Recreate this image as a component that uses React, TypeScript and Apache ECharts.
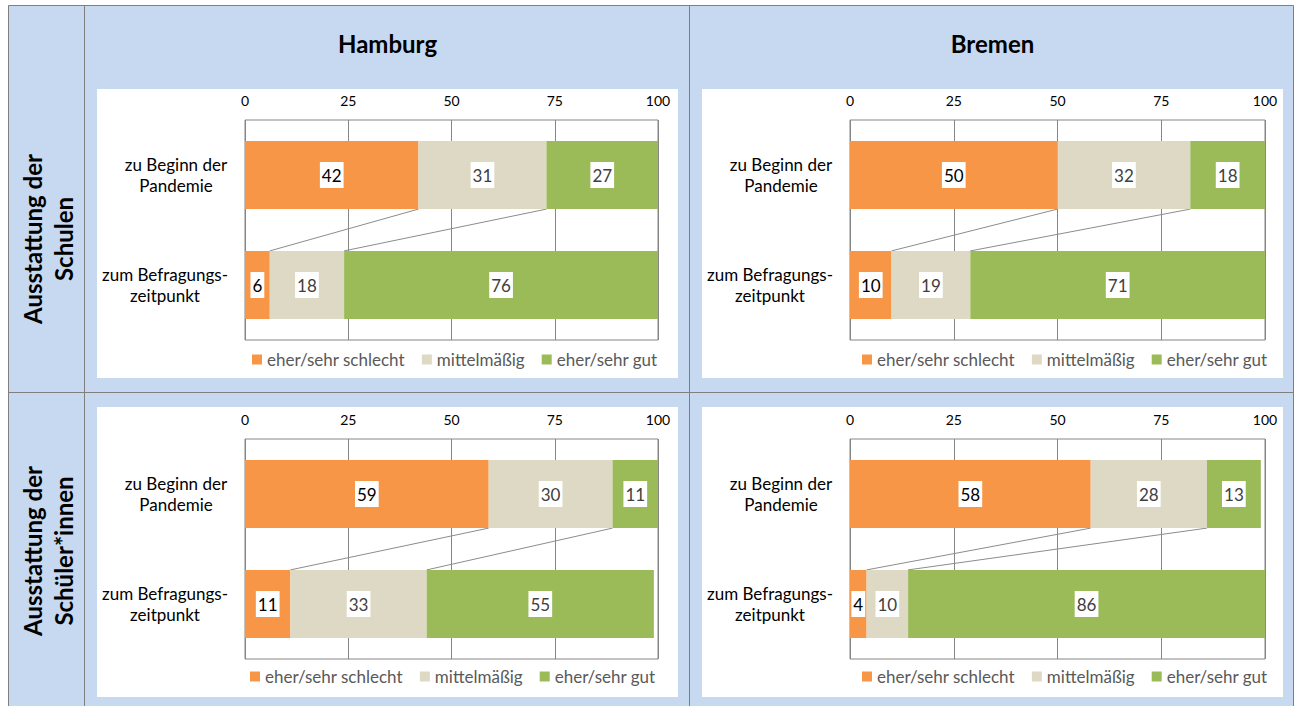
import React, { useEffect, useRef } from 'react';
import * as echarts from 'echarts';

// ---------- data ----------
const categories = ['zu Beginn der\nPandemie', 'zum Befragungs-\nzeitpunkt'];
const seriesNames = ['eher/sehr schlecht', 'mittelmäßig', 'eher/sehr gut'];
const axisTicks = [0, 25, 50, 75, 100];
const cityTitles = ['Hamburg', 'Bremen'];
const rowTitles = ['Ausstattung der\nSchulen', 'Ausstattung der\nSchüler*innen'];

// Ausstattung der Schulen
const hamburgSchulenSchlecht = [42, 6];
const hamburgSchulenMittel = [31, 18];
const hamburgSchulenGut = [27, 76];
const bremenSchulenSchlecht = [50, 10];
const bremenSchulenMittel = [32, 19];
const bremenSchulenGut = [18, 71];
// Ausstattung der Schüler*innen
const hamburgSchuelerSchlecht = [59, 11];
const hamburgSchuelerMittel = [30, 33];
const hamburgSchuelerGut = [11, 55];
const bremenSchuelerSchlecht = [58, 4];
const bremenSchuelerMittel = [28, 10];
const bremenSchuelerGut = [13, 86];

// ---------- style ----------
const FONT = 'Lato';
const colors = ['#F79646', '#DDD9C4', '#9BBB59'];
const labelColors = ['#000000', '#404040', '#404040'];
const BAR_FRAC = 0.62;

const panels = [
  { grid: { left: 245, top: 120, width: 413, height: 220 }, legend: { left: 252, top: 351 }, values: [hamburgSchulenSchlecht, hamburgSchulenMittel, hamburgSchulenGut] },
  { grid: { left: 850, top: 120, width: 415, height: 220 }, legend: { left: 862, top: 351 }, values: [bremenSchulenSchlecht, bremenSchulenMittel, bremenSchulenGut] },
  { grid: { left: 245, top: 439, width: 413, height: 220 }, legend: { left: 250, top: 668 }, values: [hamburgSchuelerSchlecht, hamburgSchuelerMittel, hamburgSchuelerGut] },
  { grid: { left: 850, top: 439, width: 415, height: 220 }, legend: { left: 862, top: 668 }, values: [bremenSchuelerSchlecht, bremenSchuelerMittel, bremenSchuelerGut] },
];

function buildOption() {
  const grids: any[] = [];
  const xAxes: any[] = [];
  const yAxes: any[] = [];
  const series: any[] = [];
  const legends: any[] = [];

  panels.forEach((p, i) => {
    grids.push({ ...p.grid, show: true, borderColor: '#868686', borderWidth: 1, backgroundColor: 'transparent' });
    xAxes.push({
      gridIndex: i,
      type: 'value',
      position: 'top',
      min: axisTicks[0],
      max: axisTicks[axisTicks.length - 1],
      interval: axisTicks[1] - axisTicks[0],
      axisLine: { show: false },
      axisTick: { show: false },
      axisLabel: { margin: 13, color: '#000', fontSize: 14, fontFamily: FONT },
      splitLine: { show: true, lineStyle: { color: '#868686', width: 1 } },
    });
    yAxes.push({
      gridIndex: i,
      type: 'category',
      data: categories,
      inverse: true,
      axisLine: { show: false },
      axisTick: { show: false },
      axisLabel: {
        margin: 16,
        align: 'right',
        color: '#000',
        fontSize: 17,
        fontFamily: FONT,
        lineHeight: 21,
        formatter: (val: string, idx: number) =>
          val.split('\n').map((l) => `{c${idx}|${l}}`).join('\n'),
        rich: {
          c0: { width: 106, align: 'center', fontSize: 17, fontFamily: FONT, color: '#000', lineHeight: 21 },
          c1: { width: 128, align: 'center', fontSize: 17, fontFamily: FONT, color: '#000', lineHeight: 21 },
        },
      },
    });
    p.values.forEach((vals, s) => {
      series.push({
        type: 'bar',
        name: seriesNames[s],
        xAxisIndex: i,
        yAxisIndex: i,
        stack: 'stack' + i,
        barWidth: BAR_FRAC * 100 + '%',
        data: vals,
        itemStyle: { color: colors[s] },
        label: {
          show: true,
          position: 'inside',
          color: labelColors[s],
          fontSize: 17,
          fontFamily: FONT,
          backgroundColor: '#ffffff',
          padding: [5, 2, 4, 2],
        },
        emphasis: { disabled: true },
      });
    });
    // series lines between the two stacked bars
    const lineData: number[][] = [];
    for (let b = 0; b < p.values.length - 1; b++) {
      let c0 = 0;
      let c1 = 0;
      for (let s = 0; s <= b; s++) {
        c0 += p.values[s][0];
        c1 += p.values[s][1];
      }
      lineData.push([c0, c1, 0]);
    }
    series.push({
      type: 'custom',
      xAxisIndex: i,
      yAxisIndex: i,
      silent: true,
      encode: { x: [0, 1], y: 2 },
      data: lineData,
      renderItem: (params: any, api: any) => {
        const p0 = api.coord([api.value(0), 0]);
        const p1 = api.coord([api.value(1), 1]);
        const band = api.size([0, 1])[1];
        const half = (band * BAR_FRAC) / 2;
        return {
          type: 'line',
          shape: { x1: p0[0], y1: p0[1] + half, x2: p1[0], y2: p1[1] - half },
          style: { stroke: '#8C8C8C', lineWidth: 1 },
        };
      },
    });
    legends.push({
      left: p.legend.left,
      top: p.legend.top,
      orient: 'horizontal',
      padding: 0,
      icon: 'rect',
      itemWidth: 10,
      itemHeight: 10,
      itemGap: 17,
      selectedMode: false,
      data: seriesNames,
      textStyle: { color: '#595959', fontSize: 17, fontFamily: FONT },
    });
  });

  const lineStyle = { stroke: '#7F7F7F', lineWidth: 1 };
  const titleFont = `bold 24px ${FONT}`;
  const graphic: any[] = [
    { type: 'rect', z: -20, shape: { x: 8.5, y: 5.5, width: 1285, height: 720 }, style: { fill: '#C6D9F0', stroke: '#7F7F7F', lineWidth: 1 } },
    { type: 'rect', z: -19, shape: { x: 97, y: 89, width: 581, height: 289 }, style: { fill: '#FFFFFF' } },
    { type: 'rect', z: -19, shape: { x: 702, y: 89, width: 581, height: 289 }, style: { fill: '#FFFFFF' } },
    { type: 'rect', z: -19, shape: { x: 97, y: 407, width: 581, height: 290 }, style: { fill: '#FFFFFF' } },
    { type: 'rect', z: -19, shape: { x: 702, y: 407, width: 581, height: 290 }, style: { fill: '#FFFFFF' } },
    { type: 'line', z: -18, shape: { x1: 84.5, y1: 5, x2: 84.5, y2: 706 }, style: lineStyle },
    { type: 'line', z: -18, shape: { x1: 689.5, y1: 5, x2: 689.5, y2: 706 }, style: lineStyle },
    { type: 'line', z: -18, shape: { x1: 8, y1: 392.5, x2: 1294, y2: 392.5 }, style: lineStyle },
    {
      type: 'text', x: 387.5, y: 43,
      style: { text: cityTitles[0], fill: '#000', font: titleFont, textAlign: 'center', textVerticalAlign: 'middle' },
    },
    {
      type: 'text', x: 992.5, y: 43,
      style: { text: cityTitles[1], fill: '#000', font: titleFont, textAlign: 'center', textVerticalAlign: 'middle' },
    },
    {
      type: 'text', x: 47.5, y: 239, rotation: Math.PI / 2,
      style: { text: rowTitles[0], fill: '#000', font: titleFont, lineHeight: 31, textAlign: 'center', textVerticalAlign: 'middle' },
    },
    {
      type: 'text', x: 47.5, y: 551, rotation: Math.PI / 2,
      style: { text: rowTitles[1], fill: '#000', font: titleFont, lineHeight: 31, textAlign: 'center', textVerticalAlign: 'middle' },
    },
  ];

  return {
    animation: false,
    textStyle: { fontFamily: FONT },
    grid: grids,
    xAxis: xAxes,
    yAxis: yAxes,
    legend: legends,
    series,
    graphic,
  };
}

export default function App() {
  const ref = useRef<HTMLDivElement>(null);
  useEffect(() => {
    if (!ref.current) return;
    const chart = echarts.init(ref.current, undefined, { renderer: 'svg' });
    chart.setOption(buildOption() as any);
    return () => chart.dispose();
  }, []);
  return (
    <div
      ref={ref}
      style={{ position: 'fixed', left: 0, top: 0, width: 1300, height: 706, background: '#ffffff' }}
    />
  );
}
